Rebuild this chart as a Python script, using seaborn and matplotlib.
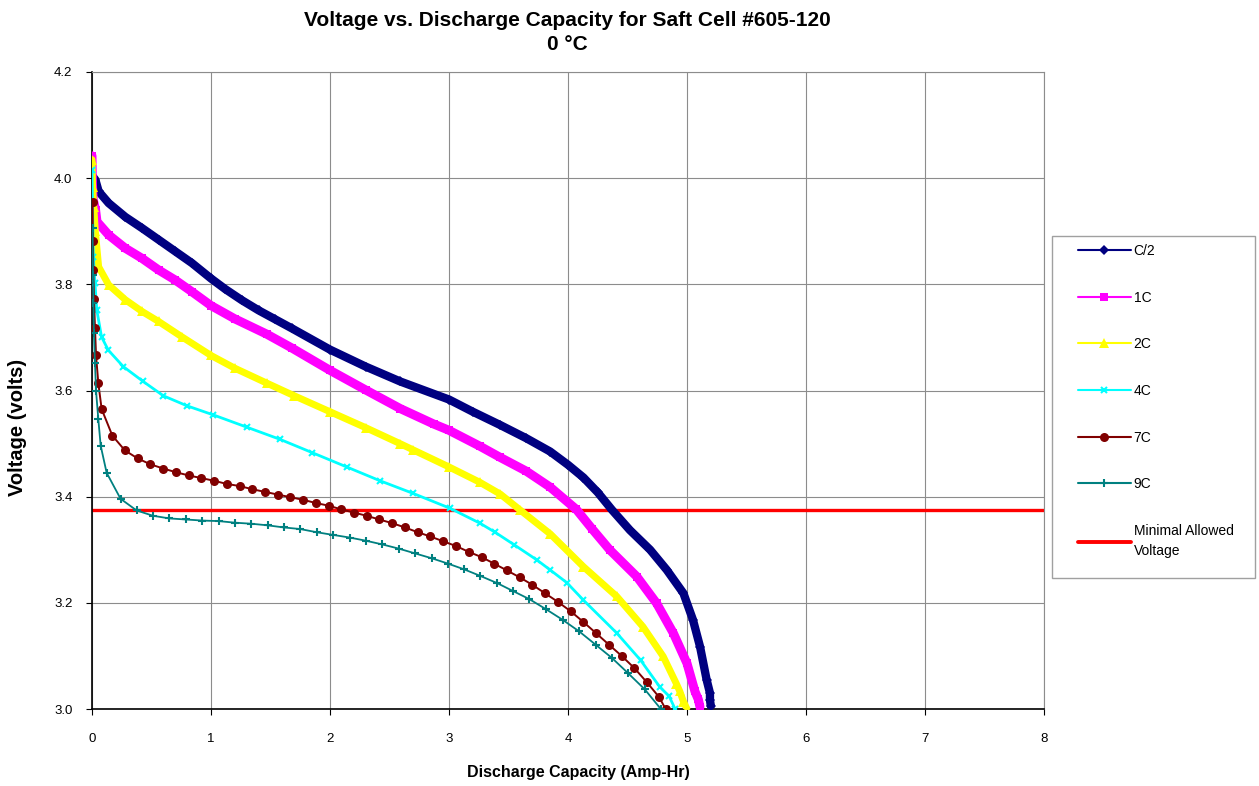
import numpy as np
import pandas as pd
import matplotlib
matplotlib.use("Agg")
import matplotlib.pyplot as plt
import seaborn as sns
from matplotlib.lines import Line2D
from matplotlib.patches import Rectangle

# ---------------- data ----------------
title_line1 = "Voltage vs. Discharge Capacity for Saft Cell #605-120"
title_line2 = "0 \u00b0C"
x_label = "Discharge Capacity (Amp-Hr)"
y_label = "Voltage (volts)"
x_ticks = [0, 1, 2, 3, 4, 5, 6, 7, 8]
y_ticks = [3.0, 3.2, 3.4, 3.6, 3.8, 4.0, 4.2]
min_allowed_voltage = 3.375

c2_cap = [0.0, 0.028, 0.056, 0.14, 0.28, 0.42, 0.56, 0.70, 0.84, 1.0, 1.12, 1.26, 1.40,
          1.54, 1.68, 2.0, 2.3, 2.59, 3.0, 3.2, 3.43, 3.65, 3.85, 4.0, 4.13, 4.25, 4.37,
          4.52, 4.69, 4.83, 4.97, 5.05, 5.11, 5.165, 5.193, 5.193, 5.2]
c2_volt = [4.005, 3.997, 3.975, 3.953, 3.927, 3.906, 3.884, 3.862, 3.840, 3.811, 3.791,
           3.770, 3.751, 3.734, 3.717, 3.677, 3.645, 3.617, 3.583, 3.560, 3.535, 3.510,
           3.485, 3.460, 3.436, 3.408, 3.375, 3.337, 3.300, 3.262, 3.218, 3.168, 3.117,
           3.055, 3.030, 3.017, 3.006]

c1_cap = [0.0, 0.003, 0.01, 0.03, 0.042, 0.14, 0.28, 0.42, 0.56, 0.70, 0.84, 1.0, 1.2,
          1.47, 1.68, 2.0, 2.3, 2.59, 2.87, 3.0, 3.26, 3.43, 3.65, 3.85, 4.07, 4.2, 4.35,
          4.58, 4.745, 4.885, 5.0, 5.067, 5.095, 5.109]
c1_volt = [4.042, 3.990, 3.960, 3.940, 3.918, 3.893, 3.868, 3.849, 3.827, 3.808, 3.786,
           3.760, 3.735, 3.706, 3.680, 3.638, 3.601, 3.566, 3.537, 3.525, 3.495, 3.474,
           3.448, 3.418, 3.376, 3.340, 3.300, 3.249, 3.199, 3.143, 3.086, 3.033, 3.018,
           3.004]

c2c_cap = [0.0, 0.005, 0.015, 0.028, 0.056, 0.14, 0.28, 0.42, 0.56, 0.756, 1.0, 1.2,
           1.468, 1.7, 2.0, 2.3, 2.588, 2.7, 3.0, 3.26, 3.43, 3.597, 3.85, 4.13, 4.41,
           4.63, 4.80, 4.91, 4.94, 4.97, 5.0]
c2c_volt = [4.035, 3.984, 3.946, 3.900, 3.833, 3.799, 3.771, 3.749, 3.730, 3.701, 3.666,
            3.642, 3.614, 3.590, 3.560, 3.530, 3.500, 3.488, 3.456, 3.427, 3.405, 3.375,
            3.330, 3.268, 3.212, 3.155, 3.099, 3.048, 3.033, 3.014, 3.000]

c4_cap = [0.0, 0.011, 0.025, 0.04, 0.08, 0.137, 0.263, 0.43, 0.6, 0.8, 1.02, 1.3, 1.58,
          1.85, 2.14, 2.42, 2.70, 3.01, 3.26, 3.387, 3.55, 3.737, 3.85, 3.99, 4.13, 4.41,
          4.61, 4.77, 4.85, 4.90]
c4_volt = [4.015, 3.852, 3.802, 3.752, 3.701, 3.676, 3.645, 3.617, 3.590, 3.571, 3.554,
           3.531, 3.508, 3.483, 3.456, 3.430, 3.406, 3.378, 3.350, 3.333, 3.309, 3.281,
           3.262, 3.238, 3.205, 3.143, 3.092, 3.042, 3.024, 3.000]

c7_cap = [0.005, 0.008, 0.011, 0.017, 0.025, 0.034, 0.053, 0.081, 0.171, 0.277, 0.384,
          0.49, 0.599, 0.706, 0.812, 0.919, 1.025, 1.132, 1.241, 1.347, 1.454, 1.56,
          1.667, 1.776, 1.882, 1.989, 2.095, 2.202, 2.308, 2.414, 2.524, 2.63, 2.737,
          2.843, 2.95, 3.059, 3.166, 3.275, 3.378, 3.487, 3.594, 3.70, 3.807, 3.914,
          4.023, 4.129, 4.235, 4.345, 4.451, 4.558, 4.664, 4.767, 4.82]
c7_volt = [3.955, 3.882, 3.827, 3.772, 3.718, 3.666, 3.614, 3.565, 3.515, 3.487, 3.472,
           3.461, 3.453, 3.446, 3.440, 3.435, 3.430, 3.424, 3.420, 3.414, 3.409, 3.404,
           3.399, 3.394, 3.388, 3.383, 3.376, 3.370, 3.364, 3.357, 3.350, 3.342, 3.333,
           3.325, 3.316, 3.307, 3.296, 3.286, 3.274, 3.261, 3.248, 3.234, 3.218, 3.202,
           3.184, 3.164, 3.143, 3.121, 3.100, 3.077, 3.050, 3.022, 3.000]

c9_cap = [0.005, 0.008, 0.012, 0.016, 0.025, 0.034, 0.053, 0.073, 0.123, 0.24, 0.375,
          0.513, 0.65, 0.79, 0.927, 1.064, 1.20, 1.34, 1.476, 1.613, 1.75, 1.888, 2.025,
          2.165, 2.302, 2.44, 2.58, 2.717, 2.854, 2.99, 3.128, 3.26, 3.406, 3.54, 3.675,
          3.815, 3.955, 4.095, 4.233, 4.37, 4.507, 4.645, 4.78]
c9_volt = [3.906, 3.818, 3.764, 3.708, 3.651, 3.599, 3.546, 3.496, 3.445, 3.396, 3.374,
           3.364, 3.359, 3.357, 3.355, 3.354, 3.351, 3.349, 3.346, 3.342, 3.339, 3.333,
           3.328, 3.323, 3.317, 3.310, 3.302, 3.293, 3.284, 3.274, 3.263, 3.251, 3.237,
           3.222, 3.207, 3.188, 3.168, 3.146, 3.121, 3.096, 3.067, 3.037, 3.000]

series_names = ["C/2", "1C", "2C", "4C", "7C", "9C"]
min_label = "Minimal Allowed\nVoltage"

# ---------------- style ----------------
sns.set_theme(style="white")
plt.rcParams['font.family'] = ['Liberation Sans', 'DejaVu Sans']

fig = plt.figure(figsize=(12.59, 7.86), dpi=100)
ax = fig.add_axes([92 / 1259, 1 - 709 / 786, (1044 - 92) / 1259, (709 - 72) / 786])

styles = [
    dict(color="#000080", marker="D", markersize=5, lw=6.0, mew=0),
    dict(color="#FF00FF", marker="s", markersize=6, lw=6.5, mew=0),
    dict(color="#FFFF00", marker="^", markersize=7, lw=5.0, mew=0),
    dict(color="#00FFFF", marker="x", markersize=5, lw=2.0, mew=1.5),
    dict(color="#800000", marker="o", markersize=6.5, lw=1.4, mew=0),
    dict(color="#008080", marker="+", markersize=6, lw=1.3, mew=1.5),
]
data = [(c2_cap, c2_volt), (c1_cap, c1_volt), (c2c_cap, c2c_volt),
        (c4_cap, c4_volt), (c7_cap, c7_volt), (c9_cap, c9_volt)]

ax.axhline(min_allowed_voltage, color="#FF0000", lw=2.4, zorder=2)

for i, ((xs, ys), st) in enumerate(zip(data, styles)):
    sns.lineplot(x=xs, y=ys, ax=ax, sort=False, estimator=None,
                 color=st["color"], marker=st["marker"], markersize=st["markersize"],
                 linewidth=st["lw"], markeredgewidth=st["mew"],
                 markeredgecolor=st["color"], zorder=3 + i, legend=False,
                 solid_joinstyle="round", solid_capstyle="round")

ax.set_xlim(0, 8)
ax.set_ylim(3.0, 4.2)
ax.set_xticks(x_ticks)
ax.set_xticklabels([str(t) for t in x_ticks])
ax.set_yticks(y_ticks)
ax.set_yticklabels([f"{t:.1f}" for t in y_ticks])
ax.grid(True, color="#8c8c8c", linewidth=0.8)
ax.set_axisbelow(True)

for s in ["left", "bottom"]:
    ax.spines[s].set_color("black")
    ax.spines[s].set_linewidth(1.2)
for s in ["top", "right"]:
    ax.spines[s].set_color("#8c8c8c")
    ax.spines[s].set_linewidth(0.8)

ax.tick_params(axis="both", direction="out", length=4, width=0.8, color="black",
               labelsize=9.5, labelcolor="black", bottom=True, left=True)
ax.tick_params(axis="y", pad=10)
ax.tick_params(axis="x", pad=13)

ax.set_xlabel(x_label, fontsize=11.5, fontweight="bold", color="black")
ax.xaxis.set_label_coords((578 - 92) / 952, -(773 - 709) / 637)
ax.set_ylabel(y_label, fontsize=14.5, fontweight="bold", color="black")
ax.yaxis.set_label_coords(-(92 - 18) / 952, 1 - (427 - 72) / 637)
ax.xaxis.label.set_va("center")
ax.yaxis.label.set_va("center")

fig.text(567 / 1259, 1 - 20 / 786, title_line1,
         ha="center", va="center", fontsize=15, fontweight="bold", color="black")
fig.text(567 / 1259, 1 - 45 / 786, title_line2,
         ha="center", va="center", fontsize=15, fontweight="bold", color="black")

# ---------------- legend ----------------
handles = []
for name, st in zip(series_names, styles):
    handles.append(Line2D([0], [0], color=st["color"], lw=1.5, marker=st["marker"],
                          markersize=st["markersize"], markeredgewidth=st["mew"],
                          markeredgecolor=st["color"]))
handles.append(Line2D([0], [0], color="#FF0000", lw=2.8))
labels = series_names + [min_label]

fig.patches.append(Rectangle((1052 / 1259, 1 - 578 / 786), (1255 - 1052) / 1259,
                             (578 - 236) / 786, transform=fig.transFigure,
                             facecolor="white", edgecolor="#a0a0a0", lw=1.0, zorder=0))
leg = fig.legend(handles, labels, loc="upper left",
                 bbox_to_anchor=(1078 / 1259, 1 - 244 / 786), frameon=False,
                 fontsize=10, handlelength=3.8, handletextpad=0.2, labelspacing=2.35,
                 borderpad=0, borderaxespad=0)
for t in leg.get_texts():
    t.set_color("black")
leg.get_texts()[-1].set_linespacing(1.6)

fig.savefig("out.png", dpi=100)
